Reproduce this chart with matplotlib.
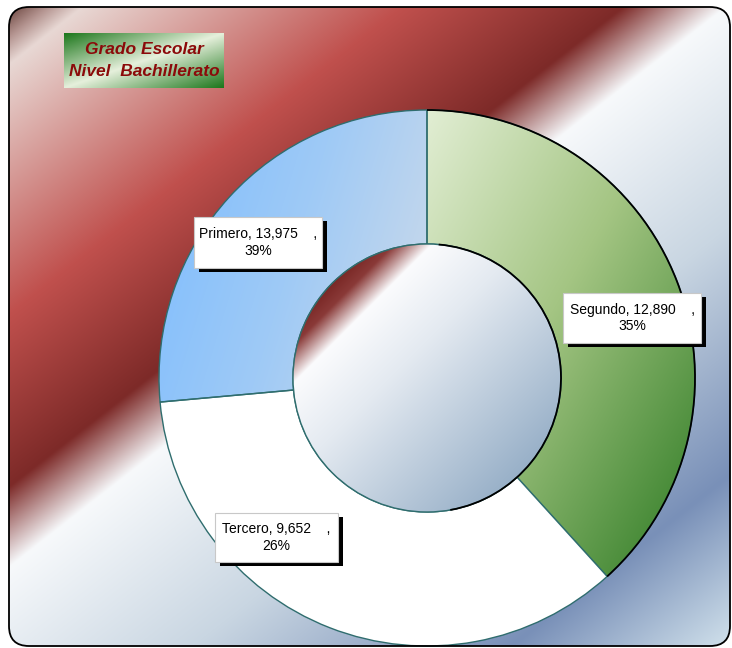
import numpy as np
import matplotlib
matplotlib.use("Agg")
import matplotlib.pyplot as plt
from matplotlib.colors import to_rgb
from matplotlib.patches import FancyBboxPatch, Rectangle, Circle, Arc

# Alumnos por grado escolar (bachillerato)
categories = ["Primero", "Segundo", "Tercero"]
values = [13975, 12890, 9652]
pct_labels = ["39%", "35%", "26%"]
title_lines = ["Grado Escolar", "Nivel  Bachillerato"]

W, H = 732, 648
plt.rcParams["font.family"] = ["Liberation Sans", "DejaVu Sans"]


def ramp(t, stops):
    """Map t (array) through a list of (position, colour) stops to RGB."""
    pos = [p for p, _ in stops]
    cols = np.array([to_rgb(c) for _, c in stops])
    out = np.empty(t.shape + (3,))
    for k in range(3):
        out[..., k] = np.interp(t, pos, cols[:, k])
    return out


def grad_img(ax, x0, x1, y0, y1, tfunc, stops, clip=None, zorder=1, n=400):
    # image in y-up data coords, row 0 is the top edge
    u = np.linspace(0, 1, n)
    U, V = np.meshgrid(u, u)
    rgb = ramp(tfunc(U, V), stops)
    im = ax.imshow(rgb, extent=(x0, x1, y0, y1), origin="upper",
                   interpolation="bilinear", zorder=zorder, aspect="auto")
    if clip is not None:
        im.set_clip_path(clip)
    return im


def iy(y):
    # convert a top-down pixel row to the y-up axes coordinate
    return H - y


fig = plt.figure(figsize=(W / 100, H / 100), dpi=100)
ax = fig.add_axes([0, 0, 1, 1])

# rounded chart frame with diagonal gradient
frame = FancyBboxPatch((9, iy(646)), 721, 639, boxstyle="round,pad=0,rounding_size=20",
                       facecolor="none", edgecolor="black", linewidth=1.3, zorder=10)
ax.add_patch(frame)
clip_frame = FancyBboxPatch((9, iy(646)), 721, 639, boxstyle="round,pad=0,rounding_size=20",
                            facecolor="none", edgecolor="none", transform=ax.transData)
ax.add_patch(clip_frame)
ky = 1.28
tmax = W + ky * H
bg_stops = [(0, "#6a3c36"), (25, "#7b5650"), (55, "#b49490"), (90, "#e8d8d4"),
            (410, "#c0504d"), (632, "#7d2a28"), (735, "#f7f9fb"), (1020, "#c9d6e2"),
            (1340, "#7990b8"), (tmax, "#d2e2ec")]
grad_img(ax, 0, W, 0, H, lambda U, V: U * W + ky * V * H, bg_stops, clip=clip_frame, zorder=0)

# donut
cx, cy, R = 427, iy(378), 268
teal = "#2f6d6e"
wedges, _ = ax.pie(values, startangle=90, counterclock=False, radius=R, center=(cx, cy),
                   colors=["none", "white", "none"],
                   wedgeprops=dict(width=R / 2, edgecolor=teal, linewidth=1.0, zorder=3))
for w in wedges:
    w.set_zorder(3)

fills = {
    0: (lambda U, V: 0.5 * U + 0.5 * V,
        [(0, "#e2eed4"), (0.45, "#a4c583"), (1, "#2c7a22")]),
    2: (lambda U, V: 0.75 * U + 0.25 * V,
        [(0, "#7cbcff"), (0.5, "#9fcaf6"), (1, "#cfdbe9")]),
}
for i, (tf, stops) in fills.items():
    ext = wedges[i].get_path().get_extents()
    grad_img(ax, ext.x0, ext.x1, ext.y0, ext.y1, tf, stops, clip=wedges[i], zorder=2)

# dark rim on the first sector
ang = 360 * values[0] / sum(values)
ax.add_patch(Arc((cx, cy), 2 * R, 2 * R, theta1=90 - ang, theta2=90,
                 color="black", linewidth=1.3, zorder=4))

# centre hole
r = R / 2
hole = Circle((cx, cy), r, facecolor="none", edgecolor=teal, linewidth=1.0, zorder=4)
ax.add_patch(hole)
hole_stops = [(-1.0, "#7a2826"), (-0.88, "#8a3a38"), (-0.68, "#fbfbfd"),
              (-0.2, "#e4eaf1"), (1.0, "#98b0c8")]
grad_img(ax, cx - r, cx + r, cy - r, cy + r,
         lambda U, V: ((2 * U - 1) + (2 * V - 1)) / np.sqrt(2),
         hole_stops, clip=hole, zorder=3)
ax.add_patch(Arc((cx, cy), 2 * r, 2 * r, theta1=-80, theta2=85,
                 color="black", linewidth=1.3, zorder=5))

# data labels (boxes with drop shadow)
label_boxes = {"Primero": (194, 217, 322, 268),
               "Segundo": (563, 293, 701, 343),
               "Tercero": (215, 513, 338, 562)}
for name, val, pct in zip(categories, values, pct_labels):
    x0, y0, x1, y1 = label_boxes[name]
    ax.add_patch(Rectangle((x0 + 5, iy(y1 + 4)), x1 - x0, y1 - y0,
                           facecolor="black", edgecolor="none", zorder=6))
    ax.add_patch(Rectangle((x0, iy(y1)), x1 - x0, y1 - y0,
                           facecolor="white", edgecolor="#c8c8c8", linewidth=0.8, zorder=7))
    ax.text((x0 + x1) / 2, iy((y0 + y1) / 2), f"{name}, {val:,}    ,\n{pct}",
            ha="center", va="center", multialignment="center", fontsize=10,
            color="black", zorder=8, linespacing=1.25)

# title box
tx0, ty0, tx1, ty1 = 64, 33, 224, 88
grad_img(ax, tx0, tx1, iy(ty1), iy(ty0), lambda U, V: 0.5 * U + 0.5 * V,
         [(0, "#1b761a"), (0.5, "#e6f0dc"), (1, "#1b761a")], zorder=6)
ax.text((tx0 + tx1) / 2, iy(49), title_lines[0], ha="center", va="center",
        fontsize=12.5, fontweight="bold", fontstyle="italic", color="#8b0a0a", zorder=8)
ax.text((tx0 + tx1) / 2, iy(72), title_lines[1], ha="center", va="center",
        fontsize=12.5, fontweight="bold", fontstyle="italic", color="#8b0a0a", zorder=8)

ax.set_xlim(0, W)
ax.set_ylim(0, H)
ax.set_aspect("auto")
ax.axis("off")
fig.savefig("out.png", dpi=100, facecolor="white")
